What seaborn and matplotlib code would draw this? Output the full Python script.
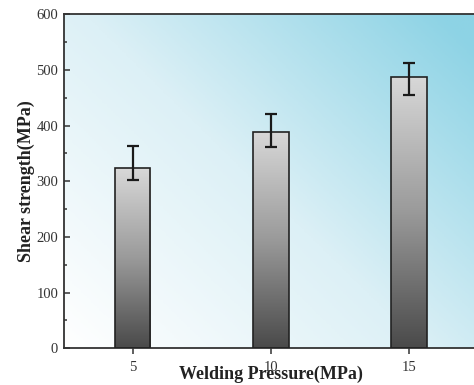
import numpy as np
import pandas as pd
import matplotlib
matplotlib.use("Agg")
import matplotlib.pyplot as plt
from matplotlib.colors import LinearSegmentedColormap
from matplotlib.ticker import MultipleLocator
import seaborn as sns

# data
pressure = ["5", "10", "15"]
strength = [323, 388, 488]
err_low = [21, 27, 34]
err_high = [40, 32, 24]

sns.set_theme(style="white")
plt.rcParams["font.family"] = ["Liberation Serif", "DejaVu Serif"]

fig = plt.figure(figsize=(4.74, 3.85), dpi=100)
ax = fig.add_axes([0.1344, 0.0953, 0.874, 0.868])

df = pd.DataFrame({"pressure": pressure, "strength": strength})
sns.barplot(data=df, x="pressure", y="strength", order=pressure, width=0.256,
            color="white", edgecolor="#222222", linewidth=1.2, errorbar=None, ax=ax)

# background gradient, white bottom-left -> light blue top-right
bg_cmap = LinearSegmentedColormap.from_list("bg", ["#ffffff", "#dcf0f6", "#8dd3e5"])
gx, gy = np.meshgrid(np.linspace(0, 1, 200), np.linspace(0, 1, 200))
grad = np.clip((gx * 0.55 + gy * 0.45) * 1.05, 0, 1)
ax.imshow(grad, cmap=bg_cmap, origin="lower", extent=[0, 1, 0, 1],
          transform=ax.transAxes, aspect="auto", zorder=0)

# gray gradient inside each bar
bar_cmap = LinearSegmentedColormap.from_list("bar", ["#4a4a4a", "#9a9a9a", "#d8d8d8"])
vgrad = np.linspace(0, 1, 256).reshape(-1, 1)
centers = []
for p in ax.patches:
    x0, w, h = p.get_x(), p.get_width(), p.get_height()
    centers.append(x0 + w / 2)
    p.set_facecolor("none")
    p.set_zorder(3)
    im = ax.imshow(vgrad, cmap=bar_cmap, origin="lower", aspect="auto",
                   extent=[x0, x0 + w, 0, h], zorder=2)
    im.set_clip_path(p)

ax.set_xlim(-0.5, 2.5)
ax.set_ylim(0, 600)

ax.errorbar(centers, strength, yerr=[err_low, err_high], fmt="none",
            ecolor="#1a1a1a", elinewidth=1.6, capsize=4.5, capthick=1.6, zorder=4)

for s in ["left", "bottom", "top", "right"]:
    ax.spines[s].set_color("#333333")
    ax.spines[s].set_linewidth(1.3)

ax.yaxis.set_major_locator(MultipleLocator(100))
ax.yaxis.set_minor_locator(MultipleLocator(50))
ax.tick_params(axis="y", which="both", direction="in", left=True, length=4,
               width=1.1, colors="#333333", labelsize=10.5, pad=4)
ax.tick_params(axis="y", which="minor", length=2.5)
ax.tick_params(axis="x", direction="out", bottom=True, length=4, width=1.1,
               colors="#333333", labelsize=10.5, pad=5)

ax.set_xlabel("Welding Pressure(MPa)", fontsize=13, fontweight="bold",
              color="#222222", labelpad=-6)
ax.set_ylabel("Shear strength(MPa)", fontsize=13, fontweight="bold",
              color="#222222", labelpad=1)

fig.savefig("out.png", dpi=100)
